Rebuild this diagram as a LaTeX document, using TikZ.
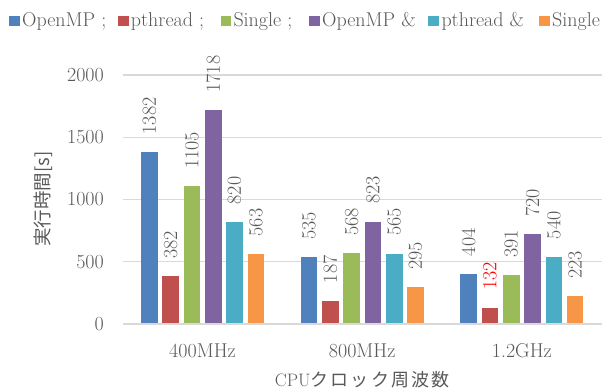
\documentclass[tikz,border=0pt]{standalone}
\usepackage{fontspec}
\newfontfamily\cjk{Noto Sans CJK JP}
\newfontfamily\cjkspaced[LetterSpace=12]{Noto Sans CJK JP}
\definecolor{c0}{HTML}{4F81BD}
\definecolor{c1}{HTML}{C0504D}
\definecolor{c2}{HTML}{9BBB59}
\definecolor{c3}{HTML}{8064A2}
\definecolor{c4}{HTML}{4BACC6}
\definecolor{c5}{HTML}{F79646}
\definecolor{txtgray}{HTML}{595959}
\definecolor{gridgray}{HTML}{D9D9D9}
\newcommand\mkbar[5]{% #1 center, #2 index, #3 value, #4 label colour, #5 name
  \pgfmathsetmacro\xl{#1-61.5+21.3*#2}
  \pgfmathsetmacro\yt{324-0.1245*#3}
  \fill[c#2] (\xl,324) rectangle (\xl+16.6,\yt);
  \node[vlabel,text=#4] (#5) at (\xl+8.3,\yt-17.5) {#3};
}
\begin{document}
\begin{tikzpicture}[x=1pt,y=-1pt,
  lbl/.style={font=\fontsize{20}{24}\selectfont, text=txtgray, inner sep=0pt},
  vlabel/.style={lbl, rotate=90, anchor=west},
  gridline/.style={draw=gridgray, line width=1.3pt},
  legsq/.style={}]
\useasboundingbox[fill=white] (0,0) rectangle (609,391);
% grid lines
\foreach \v in {500,1000,1500,2000}
  \draw[gridline] (122.7,{324-0.1245*\v}) -- (601.7,{324-0.1245*\v});
% tick labels
\foreach \v in {0,500,1000,1500,2000}
  \node[lbl,anchor=east] (t\v) at (104,{324-0.1245*\v}) {\v};
% bars
\mkbar{202.5}{0}{1382}{txtgray}{a0}
\mkbar{202.5}{1}{382}{txtgray}{a1}
\mkbar{202.5}{2}{1105}{txtgray}{a2}
\mkbar{202.5}{3}{1718}{txtgray}{a3}
\mkbar{202.5}{4}{820}{txtgray}{a4}
\mkbar{202.5}{5}{563}{txtgray}{a5}
\mkbar{362.2}{0}{535}{txtgray}{b0}
\mkbar{362.2}{1}{187}{txtgray}{b1}
\mkbar{362.2}{2}{568}{txtgray}{b2}
\mkbar{362.2}{3}{823}{txtgray}{b3}
\mkbar{362.2}{4}{565}{txtgray}{b4}
\mkbar{362.2}{5}{295}{txtgray}{b5}
\mkbar{521.8}{0}{404}{txtgray}{d0}
\mkbar{521.8}{1}{132}{red}{d1}
\mkbar{521.8}{2}{391}{txtgray}{d2}
\mkbar{521.8}{3}{720}{txtgray}{d3}
\mkbar{521.8}{4}{540}{txtgray}{d4}
\mkbar{521.8}{5}{223}{txtgray}{d5}
% axis line
\draw[gridline] (122.7,324) -- (601.7,324);
% category labels
\node[lbl,anchor=base] (x1) at (202.5,357) {400MHz};
\node[lbl,anchor=base] (x2) at (362.2,357) {800MHz};
\node[lbl,anchor=base] (x3) at (521.8,357) {1.2GHz};
% axis titles
\node[rotate=90, inner sep=0pt, text=txtgray, font=\cjk\fontsize{18.5}{20}\selectfont] (ytitle) at (43,199) {実行時間[s]};
\node[anchor=base, inner sep=0pt, text=txtgray, font=\fontsize{18}{20}\selectfont] (xtitle) at (362.2,386.5) {CPU{\cjkspaced クロック周波数}};
% legend
\foreach \sx/\tx/\t/\i in {9/22/{OpenMP ;}/0, 118.3/130.7/{pthread ;}/1, 220.7/233.3/{Single ;}/2, 309.3/322/{OpenMP \&}/3, 428.3/441.3/{pthread \&}/4, 539.3/552/{Single}/5}{
  \fill[c\i] (\sx,16) rectangle (\sx+10.5,26.3);
  \node[lbl,anchor=base west] (leg\i) at (\tx,26.3) {\t};
}
\end{tikzpicture}
\end{document}
